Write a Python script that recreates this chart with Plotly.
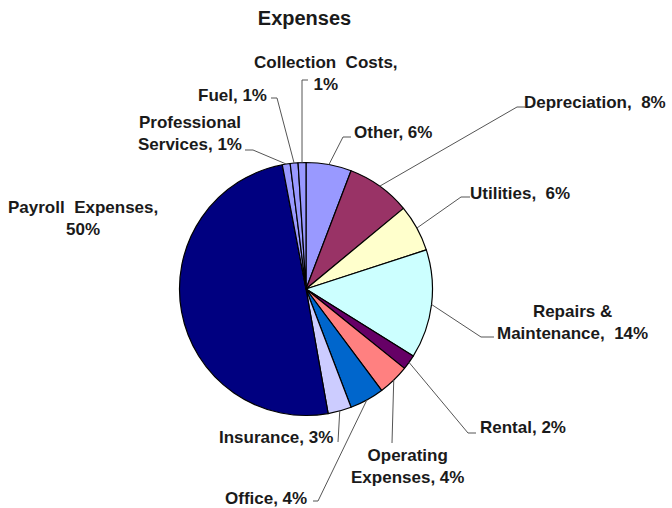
import math
import plotly.graph_objects as go

# ---- data ----
categories = ["Other", "Depreciation", "Utilities", "Repairs & Maintenance", "Rental",
              "Operating Expenses", "Office", "Insurance", "Payroll Expenses",
              "Professional Services", "Fuel", "Collection Costs"]
values = [5.8, 8.2, 6.0, 13.9, 1.9, 4.0, 4.4, 3.0, 49.8, 1.0, 1.0, 1.0]
label_names = ["Other,", "Depreciation,\u00a0", "Utilities,\u00a0", "Repairs &<br>Maintenance,\u00a0",
               "Rental,", "Operating<br>Expenses,", "Office,", "Insurance,",
               "Payroll\u00a0 Expenses,<br>", "Professional<br>Services,", "Fuel,",
               "Collection\u00a0 Costs,<br>"]
colors = ["#9999FF", "#993366", "#FFFFCC", "#CCFFFF", "#660066", "#FF8080",
          "#0066CC", "#CCCCFF", "#000080", "#9999FF", "#9999FF", "#9999FF"]

# ---- layout (pixel positions of labels and leader elbows) ----
W, H = 672, 508
CX, CY, R = 306, 289, 126.5
# text centre x, text centre y, leader elbow (x, y), tick end x
label_pos = [
    (392.5, 132, (343, 137), 351),
    (595, 103, (517, 107), 525),
    (520, 193, (461, 197), 470),
    (572.5, 322, (481, 337), 494),
    (523, 427, (468, 433), 476),
    (408, 466.5, (392, 443), None),
    (266, 498, (318, 501), 313),
    (275.5, 437, (338, 442), None),
    (83, 218.5, None, None),
    (190, 133, (253, 150), 245),
    (232.5, 95, (277, 98), 271),
    (325.5, 74, (302, 80), 308),
]

def px(x):
    return x / W

def py(y):
    return 1 - y / H

fig = go.Figure(go.Pie(
    labels=categories, values=values, sort=False, direction="clockwise", rotation=0,
    marker=dict(colors=colors, line=dict(color="#000000", width=1.2)),
    textinfo="none", hoverinfo="label+percent", showlegend=False,
    domain=dict(x=[px(CX - R), px(CX + R)], y=[py(CY + R), py(CY - R)]),
))

total = sum(values)
cum = 0.0
shapes = []
annotations = []
font = dict(family="Liberation Sans, Arial, sans-serif", size=17, color="#1a1a1a", weight="bold")
for name, v, pos in zip(label_names, values, label_pos):
    mid = (cum + v / 2) / total * 2 * math.pi
    cum += v
    ex = CX + R * math.sin(mid)
    ey = CY - R * math.cos(mid)
    tx, ty, elbow, tick = pos
    pct = f"{round(v / total * 100)}%"
    annotations.append(dict(
        x=px(tx), y=py(ty), xref="paper", yref="paper", xanchor="center", yanchor="middle",
        text=name + ("" if name.endswith("<br>") else "\u00a0") + pct, showarrow=False,
        align="center", font=font,
    ))
    lc = dict(color="#555555", width=1)
    if elbow is not None:
        shapes.append(dict(type="line", xref="paper", yref="paper",
                           x0=px(ex), y0=py(ey), x1=px(elbow[0]), y1=py(elbow[1]), line=lc))
        if tick is not None:
            shapes.append(dict(type="line", xref="paper", yref="paper",
                               x0=px(elbow[0]), y0=py(elbow[1]), x1=px(tick), y1=py(elbow[1]), line=lc))

fig.update_layout(
    width=W, height=H, margin=dict(l=0, r=0, t=0, b=0),
    paper_bgcolor="white", plot_bgcolor="white",
    title=dict(text="Expenses", x=px(304.5), y=py(18), xanchor="center", yanchor="middle",
               xref="paper", yref="container",
               font=dict(family="Liberation Sans, Arial, sans-serif", size=20, color="#1a1a1a", weight="bold")),
    shapes=shapes, annotations=annotations,
)

fig.write_html("out.html", config={"displayModeBar": False},
               post_script="document.body.style.margin='0';document.body.style.overflow='hidden';")
